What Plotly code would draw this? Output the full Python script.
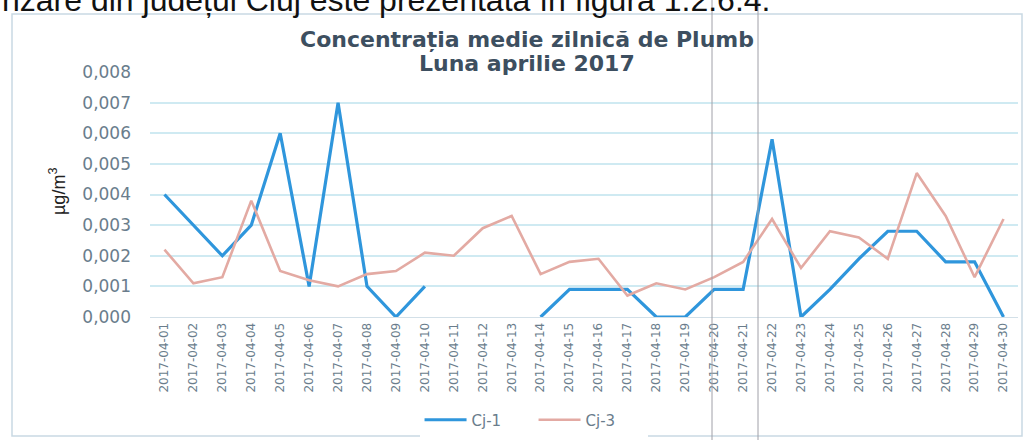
import plotly.graph_objects as go

# zilele lunii aprilie 2017
dates = ["2017-04-%02d" % d for d in range(1, 31)]

# Cj-1 (lipsa date 11-13 aprilie)
cj1 = [0.0040, 0.0030, 0.0020, 0.0030, 0.0060, 0.0010, 0.0070, 0.0010, 0.0000, 0.0010,
       None, None, None, 0.0000, 0.0009, 0.0009, 0.0009, 0.0000, 0.0000, 0.0009,
       0.0009, 0.0058, 0.0000, 0.0009, 0.0019, 0.0028, 0.0028, 0.0018, 0.0018, 0.0000]

# Cj-3
cj3 = [0.0022, 0.0011, 0.0013, 0.0038, 0.0015, 0.0012, 0.0010, 0.0014, 0.0015, 0.0021,
       0.0020, 0.0029, 0.0033, 0.0014, 0.0018, 0.0019, 0.0007, 0.0011, 0.0009, 0.0013,
       0.0018, 0.0032, 0.0016, 0.0028, 0.0026, 0.0019, 0.0047, 0.0033, 0.0013, 0.0032]

title1 = "Concentrația medie zilnică de Plumb"
title2 = "Luna aprilie 2017"

W, H = 1032, 440
L, R, T, B = 150, 14, 72, 123
pw = W - L - R
ph = H - T - B

def px(x):
    return (x - L) / pw

def py(y):
    return (H - B - y) / ph

fig = go.Figure()
fig.add_trace(go.Scatter(x=dates, y=cj1, mode="lines", name="Cj-1",
                         line=dict(color="#2f96dc", width=3.2), connectgaps=False))
fig.add_trace(go.Scatter(x=dates, y=cj3, mode="lines", name="Cj-3",
                         line=dict(color="#e3aaa3", width=2.6)))

fig.update_layout(
    width=W, height=H,
    margin=dict(l=L, r=R, t=T, b=B, autoexpand=False),
    paper_bgcolor="white", plot_bgcolor="white",
    separators=", ",
    xaxis=dict(type="category", tickangle=-90, automargin=False,
               tickfont=dict(family="DejaVu Sans", size=12, color="#6a7d8c"),
               showgrid=False, showline=True, linecolor="#d3e0e8", ticks="", range=[-0.5, 29.5]),
    yaxis=dict(range=[0, 0.008], dtick=0.001, tickformat=".3f", automargin=False,
               tickfont=dict(family="DejaVu Sans", size=17, color="#6a7d8c"),
               showgrid=True, gridcolor="#cfeaf2", gridwidth=1.5, zeroline=False,
               ticklabelstandoff=18),
    legend=dict(orientation="h", xref="container", yref="container", x=0.517, xanchor="center",
                y=1 - 420 / H, yanchor="middle", itemwidth=42,
                entrywidth=57, entrywidthmode="pixels",
                font=dict(family="DejaVu Sans", size=15, color="#6a7d8c")),
    showlegend=True,
)

# titlul graficului, doua randuri
for txt, yy in [(title1, 40), (title2, 63)]:
    fig.add_annotation(text="<b>" + txt + "</b>", x=px(527), y=py(yy), xref="paper", yref="paper",
                       xanchor="center", yanchor="middle", showarrow=False,
                       font=dict(family="DejaVu Sans", size=22, color="#3d4f60"))

# titlu axa Y
fig.add_annotation(text="µg/m<sup>3</sup>", textangle=-90, x=px(57), y=py(192),
                   xref="paper", yref="paper", xanchor="center", yanchor="middle", showarrow=False,
                   font=dict(family="Liberation Sans", size=18, color="#222222"))

# rand de text din document, taiat sus
fig.add_annotation(text="nzare din județul Cluj este prezentată în figura 1.2.6.4.",
                   x=px(0), y=py(0), xref="paper", yref="paper", xanchor="left", yanchor="middle",
                   showarrow=False, font=dict(family="Liberation Sans", size=32, color="#111111"))

# chenarul graficului
fig.add_shape(type="rect", xref="paper", yref="paper", x0=px(12), x1=px(1022), y0=py(436), y1=py(14),
              line=dict(color="#c9d9e3", width=1.5))

# linii verticale de la scanare
for xv in [712, 758]:
    fig.add_shape(type="line", xref="paper", yref="paper", x0=px(xv), x1=px(xv), y0=py(440), y1=py(0),
                  line=dict(color="#a0a0a8", width=1))

fig.write_html("out.html", config={"displayModeBar": False},
               post_script="document.body.style.margin='0px';")
